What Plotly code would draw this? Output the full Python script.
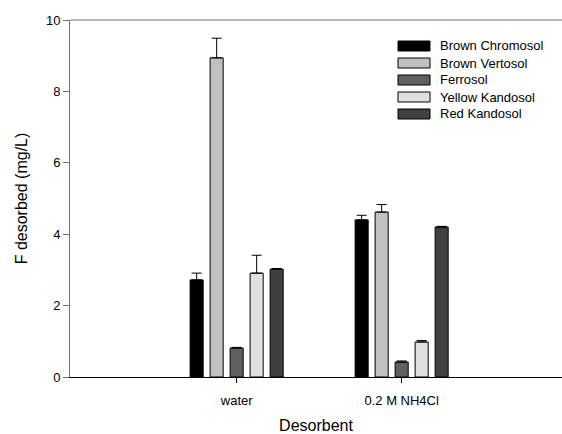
import plotly.graph_objects as go

categories = ["water", "0.2 M NH4Cl"]
series_names = ["Brown Chromosol", "Brown Vertosol", "Ferrosol", "Yellow Kandosol", "Red Kandosol"]
series_colors = ["#000000", "#c0c0c0", "#606060", "#e0e0e0", "#404040"]
brown_chromosol = [2.72, 4.40]
brown_vertosol = [8.94, 4.62]
ferrosol = [0.81, 0.42]
yellow_kandosol = [2.91, 0.98]
red_kandosol = [3.02, 4.20]
err_brown_chromosol = [0.19, 0.13]
err_brown_vertosol = [0.55, 0.21]
err_ferrosol = [0.02, 0.03]
err_yellow_kandosol = [0.50, 0.04]
err_red_kandosol = [0.02, 0.02]
y_ticks = [0, 2, 4, 6, 8, 10]

values = [brown_chromosol, brown_vertosol, ferrosol, yellow_kandosol, red_kandosol]
errors = [err_brown_chromosol, err_brown_vertosol, err_ferrosol, err_yellow_kandosol, err_red_kandosol]

FONT = "Liberation Sans, Arial, sans-serif"
W, H = 562, 434
ML, MR, MT, MB = 70, 0, 20, 57
PW, PH = W - ML - MR, H - MT - MB

fig = go.Figure()
for name, col, v, e in zip(series_names, series_colors, values, errors):
    fig.add_trace(go.Bar(
        x=categories, y=v, name=name,
        marker=dict(color=col, line=dict(color="black", width=1)),
        error_y=dict(type="data", array=e, arrayminus=[0] * len(e), symmetric=False,
                     color="black", thickness=1, width=5),
        showlegend=False,
    ))

# custom legend (wide swatches like the original)
shapes = []
annotations = []
def px2x(px):
    return (px - ML) / PW
def py2y(py):
    return (H - MB - py) / PH
for i, (name, col) in enumerate(zip(series_names, series_colors)):
    cy = 46 + 17 * i
    shapes.append(dict(type="rect", xref="paper", yref="paper",
                       x0=px2x(398), x1=px2x(430), y0=py2y(cy + 5), y1=py2y(cy - 5),
                       fillcolor=col, line=dict(color="black", width=1)))
    annotations.append(dict(xref="paper", yref="paper", x=px2x(438), y=py2y(cy),
                            text=name, showarrow=False, xanchor="left", yanchor="middle",
                            font=dict(family=FONT, size=13, color="black")))
# top frame line
shapes.append(dict(type="line", xref="paper", yref="paper", x0=0, x1=1, y0=1, y1=1,
                   line=dict(color="#707070", width=1)))

fig.update_layout(
    width=W, height=H,
    margin=dict(l=ML, r=MR, t=MT, b=MB),
    paper_bgcolor="white", plot_bgcolor="white",
    barmode="group", bargap=0.394, bargroupgap=0.347,
    font=dict(family=FONT, size=13, color="black"),
    shapes=shapes, annotations=annotations,
    xaxis=dict(type="category", range=[-1.01, -1.01 + PW / 165.0],
               showline=True, linecolor="black", linewidth=1,
               ticks="outside", ticklen=5, tickcolor="black", tickwidth=1,
               ticklabelstandoff=6,
               showgrid=False, zeroline=False,
               tickfont=dict(family=FONT, size=13),
               title=dict(text="Desorbent", font=dict(family=FONT, size=16), standoff=16)),
    yaxis=dict(range=[0, 10], tickvals=y_ticks,
               showline=True, linecolor="#707070", linewidth=1,
               ticks="outside", ticklen=6, tickcolor="#707070", tickwidth=1,
               showgrid=False, zeroline=False,
               tickfont=dict(family=FONT, size=13),
               title=dict(text="F desorbed (mg/L)", font=dict(family=FONT, size=16), standoff=14)),
)

fig.write_html("out.html")
